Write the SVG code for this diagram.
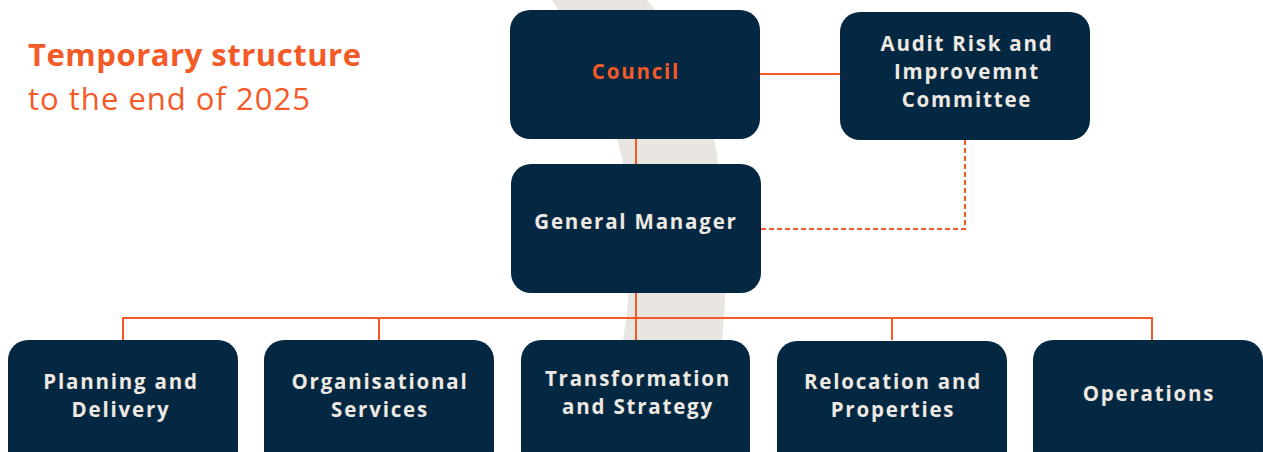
<svg xmlns="http://www.w3.org/2000/svg" width="1263" height="452" viewBox="0 0 1263 452">
  <style>
    .box { fill: #052842; }
    .label { font-family: "Open Sans", "Liberation Sans", sans-serif; font-weight: 700; font-size: 20.5px; letter-spacing: 1.8px; fill: #EEE9E2; text-anchor: middle; }
    .accent { fill: #F45A28; }
    .link { fill: none; stroke: #F45A28; stroke-width: 2; }
    .dash { stroke-dasharray: 5 3; }
    .title { font-family: "Open Sans", "Liberation Sans", sans-serif; font-size: 31px; fill: #F45A28; }
  </style>

  <rect width="1263" height="452" fill="#FFFFFF"/>

  <!-- background swoosh -->
  <path d="M552,0 C590,60 612,110 623,163 C632,220 632,290 623,340 L605,452 L705,452 L722,340 C728,290 726,220 718,163 C712,110 690,50 647,0 Z" fill="#E9E6E1"/>

  <!-- heading -->
  <text class="title" x="28" y="66" font-weight="700" textLength="333" lengthAdjust="spacing">Temporary structure</text>
  <text class="title" x="28" y="110" font-weight="400" textLength="282" lengthAdjust="spacing">to the end of 2025</text>

  <!-- connectors -->
  <g id="connectors">
    <line class="link" x1="760" y1="74" x2="840" y2="74"/>
    <line class="link" x1="636" y1="139" x2="636" y2="164"/>
    <polyline class="link dash" points="761,229 965,229 965,140"/>
    <line class="link" x1="636" y1="293" x2="636" y2="340"/>
    <line class="link" x1="123" y1="318" x2="1152" y2="318"/>
    <line class="link" x1="123" y1="317" x2="123" y2="340"/>
    <line class="link" x1="379" y1="317" x2="379" y2="340"/>
    <line class="link" x1="892" y1="317" x2="892" y2="340"/>
    <line class="link" x1="1152" y1="317" x2="1152" y2="340"/>
  </g>

  <g id="council">
    <rect class="box" x="510" y="10" width="250" height="129" rx="20"/>
    <text class="label accent" x="636" y="79">Council</text>
  </g>

  <g id="audit-committee">
    <rect class="box" x="840" y="12" width="250" height="128" rx="20"/>
    <text class="label" x="967" y="51">Audit Risk and</text>
    <text class="label" x="967" y="79">Improvemnt</text>
    <text class="label" x="967" y="107">Committee</text>
  </g>

  <g id="general-manager">
    <rect class="box" x="511" y="164" width="250" height="129" rx="20"/>
    <text class="label" x="636" y="229">General Manager</text>
  </g>

  <g id="planning-delivery">
    <rect class="box" x="8" y="340" width="230" height="130" rx="20"/>
    <text class="label" x="121" y="389">Planning and</text>
    <text class="label" x="121" y="417">Delivery</text>
  </g>

  <g id="organisational-services">
    <rect class="box" x="264" y="340" width="230" height="130" rx="20"/>
    <text class="label" x="380" y="389">Organisational</text>
    <text class="label" x="380" y="417">Services</text>
  </g>

  <g id="transformation-strategy">
    <rect class="box" x="521" y="340" width="229" height="130" rx="20"/>
    <text class="label" x="638" y="386">Transformation</text>
    <text class="label" x="638" y="414">and Strategy</text>
  </g>

  <g id="relocation-properties">
    <rect class="box" x="777" y="341" width="230" height="130" rx="20"/>
    <text class="label" x="893" y="389">Relocation and</text>
    <text class="label" x="893" y="417">Properties</text>
  </g>

  <g id="operations">
    <rect class="box" x="1033" y="340" width="230" height="130" rx="20"/>
    <text class="label" x="1149" y="401">Operations</text>
  </g>
</svg>
